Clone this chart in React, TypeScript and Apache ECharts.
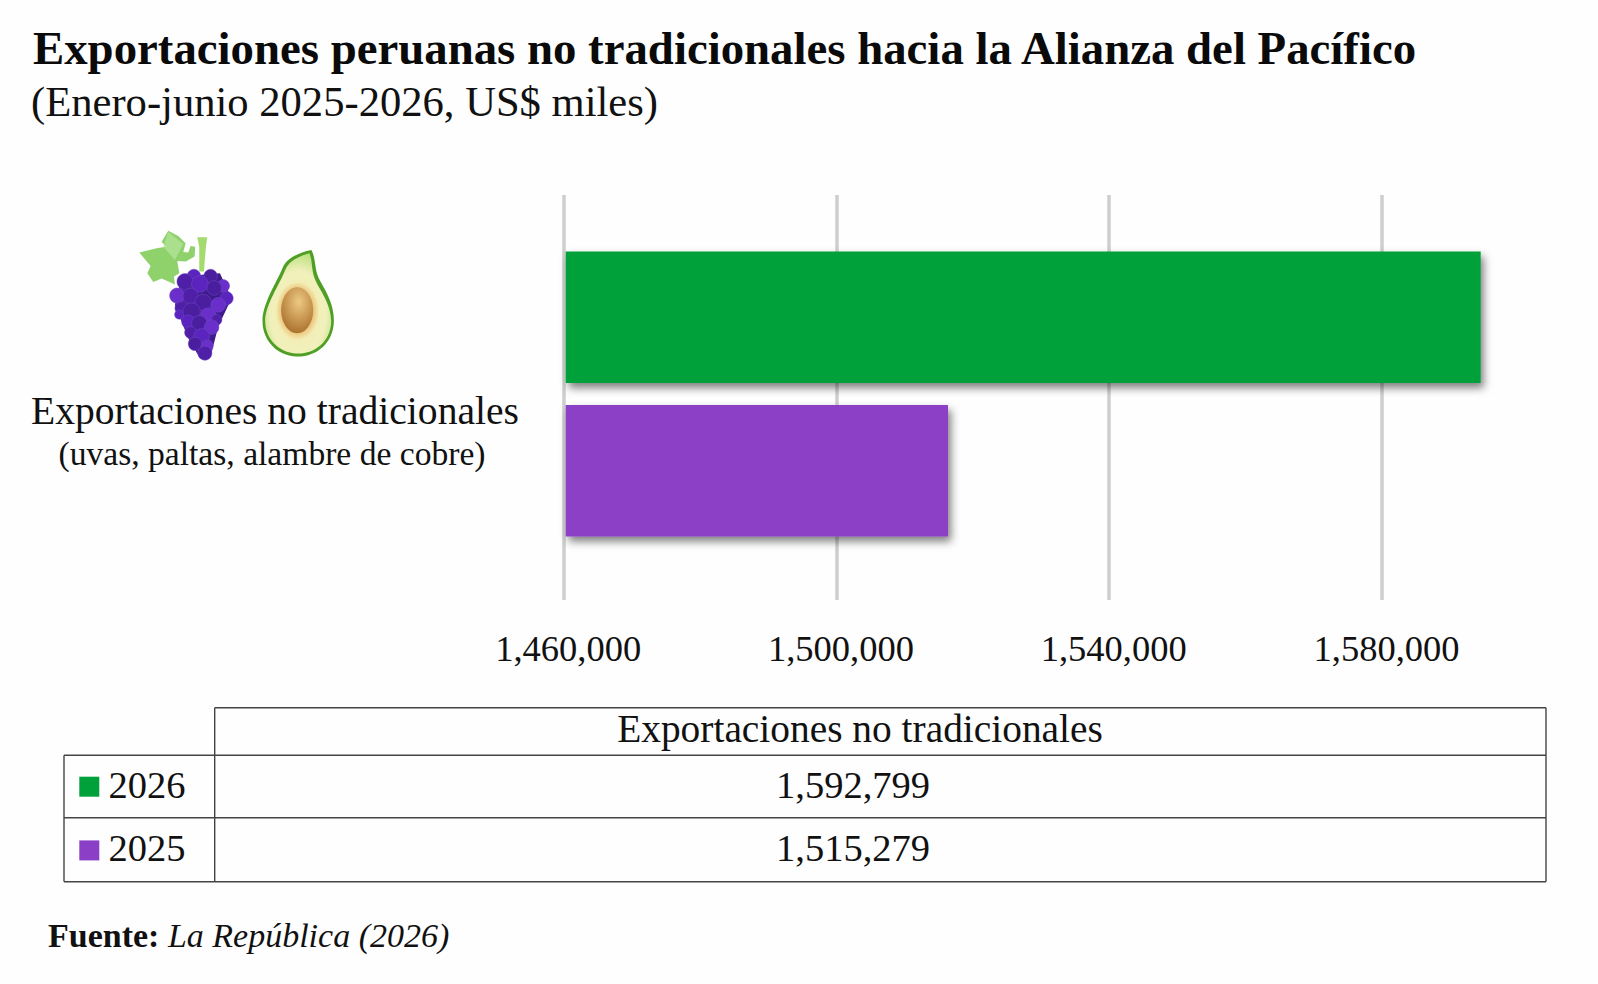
import React, { useEffect, useRef } from "react";
import * as echarts from "echarts";

const titleText = "Exportaciones peruanas no tradicionales hacia la Alianza del Pacífico";
const subtitleText = "(Enero-junio 2025-2026, US$ miles)";
const categoryName = "Exportaciones no tradicionales";
const categoryNote = "(uvas, paltas, alambre de cobre)";
const sourceLabel = "Fuente:";
const sourceName = "La República (2026)";
const categories = [categoryName];
const years = ["2026", "2025"];
const values2026 = [1592799];
const values2025 = [1515279];
const axisMin = 1460000;
const axisMax = 1580000;
const axisStep = 40000;
const barColors = ["#00A13A", "#8B3FC6"];

const SERIF = '"Liberation Serif", "Times New Roman", serif';
const fmt = (v: number) => v.toLocaleString("en-US");

const AVOCADO =
  "M575 120C590 150 582 180 602 215C622 250 645 290 642 340C638 400 590 442 530 440C470 438 428 390 428 335C428 280 470 220 490 170C502 145 535 128 575 120Z";
const AVOCADO_IN =
  "M569 130C580 158 572 185 592 222C612 256 636 295 634 340C630 396 585 433 530 431C476 429 436 385 436 335C436 285 478 228 498 176C510 152 538 138 569 130Z";
const LEAF =
  "M145 62L175 78L197 100L190 126L205 128L212 108L226 110L224 140L198 155L172 153L178 190L162 200L165 224L125 206L100 216L82 190L92 168L58 128L110 115L138 110L125 95Z";
const GRAPE_BACK =
  "M185 200L300 190L335 265L295 350L272 440L240 445L205 385L165 285Z";
const GRAPES: number[][] = [
  [222, 198, 20], [272, 198, 20], [310, 228, 19], [195, 215, 24], [240, 222, 25], [283, 234, 22],
  [172, 257, 23], [212, 258, 23], [320, 265, 20], [250, 278, 25], [295, 285, 22], [185, 295, 20],
  [178, 314, 14], [215, 305, 26], [265, 318, 24], [290, 330, 16], [205, 335, 20], [238, 340, 23],
  [275, 352, 22], [212, 368, 18], [245, 380, 24], [225, 402, 20], [262, 408, 18], [255, 430, 21],
];
const GRAPE_COLORS = ["#5B24BE", "#4A1E9F", "#6A2FCB", "#4F1FA8"];

echarts.graphic.registerShape("avocadoOuter", echarts.graphic.extendPath(AVOCADO, {}));
echarts.graphic.registerShape("avocadoInner", echarts.graphic.extendPath(AVOCADO_IN, {}));
echarts.graphic.registerShape("grapeLeaf", echarts.graphic.extendPath(LEAF, {}));
echarts.graphic.registerShape("grapeBack", echarts.graphic.extendPath(GRAPE_BACK, {}));

const LINE = { stroke: "#444444", lineWidth: 1.4 };
const hLine = (x1: number, x2: number, y: number) => ({ type: "line", shape: { x1, x2, y1: y, y2: y }, style: LINE });
const vLine = (x: number, y1: number, y2: number) => ({ type: "line", shape: { x1: x, x2: x, y1, y2 }, style: LINE });
const label = (text: string, x: number, y: number, size: number, textAlign = "left") => ({
  type: "text",
  style: { text, x, y, fill: "#111111", textAlign, textVerticalAlign: "bottom", font: `${size}px ${SERIF}` },
});

const fruitElements = () => ({
  type: "group",
  x: 120,
  y: 210,
  scaleX: 1 / 3,
  scaleY: 1 / 3,
  silent: true,
  children: [
    { type: "grapeLeaf", style: { fill: "#8FD26C" } },
    {
      type: "polygon",
      shape: { points: [[145, 66], [190, 102], [165, 150], [130, 110]] },
      style: { fill: "#B5E49C", opacity: 0.7 },
    },
    {
      type: "polygon",
      shape: { points: [[232, 82], [262, 82], [258, 110], [252, 185], [238, 185], [238, 110]] },
      style: { fill: "#A3DB6E" },
    },
    { type: "grapeBack", style: { fill: "#3F1A8C" } },
    ...GRAPES.map(([cx, cy, r], i) => ({
      type: "circle",
      shape: { cx, cy, r },
      style: { fill: GRAPE_COLORS[i % GRAPE_COLORS.length], stroke: "#6F4BC0", lineWidth: 1.5 },
    })),
    { type: "avocadoOuter", style: { fill: "#4F9F26" } },
    {
      type: "avocadoInner",
      style: {
        fill: new echarts.graphic.RadialGradient(0.5, 0.6, 0.62, [
          { offset: 0, color: "#F4E9AE" },
          { offset: 0.68, color: "#F1F0BC" },
          { offset: 1, color: "#B7E07A" },
        ]),
      },
    },
    {
      type: "ellipse",
      shape: { cx: 533, cy: 303, rx: 64, ry: 86 },
      style: {
        fill: new echarts.graphic.RadialGradient(0.5, 0.5, 0.5, [
          { offset: 0.7, color: "#E9BE72" },
          { offset: 1, color: "#F3EAB0" },
        ]),
      },
    },
    {
      type: "ellipse",
      shape: { cx: 532, cy: 301, rx: 48, ry: 69 },
      style: {
        fill: new echarts.graphic.RadialGradient(0.55, 0.32, 0.72, [
          { offset: 0, color: "#EEC983" },
          { offset: 1, color: "#A86E2A" },
        ]),
      },
    },
  ],
});

export default function App() {
  const ref = useRef<HTMLDivElement>(null);
  useEffect(() => {
    const chart = echarts.init(ref.current!, undefined, { renderer: "svg" });
    const seriesValues = [values2026, values2025];
    chart.setOption({
      animation: false,
      backgroundColor: "#FEFEFE",
      title: [
        {
          text: titleText,
          left: 28,
          top: 19,
          textStyle: { fontFamily: SERIF, fontWeight: "bold", fontSize: 46.8, color: "#0A0A0A" },
        },
        {
          text: subtitleText,
          left: 26,
          top: 75,
          textStyle: { fontFamily: SERIF, fontWeight: "normal", fontSize: 42.6, color: "#111111" },
        },
      ],
      grid: [
        { left: 563.7, top: 195, width: 818.3, height: 405 },
        { left: 565.7, top: 195, width: 915, height: 398 },
      ],
      xAxis: [
        {
          type: "value",
          gridIndex: 0,
          min: axisMin,
          max: axisMax,
          interval: axisStep,
          axisLine: { show: false },
          axisTick: { show: false },
          splitLine: { show: true, lineStyle: { color: "#CECECE", width: 3.5 } },
          axisLabel: {
            show: true,
            margin: 30,
            padding: [0, 0, 0, 9],
            fontFamily: SERIF,
            fontSize: 36.5,
            color: "#111111",
            formatter: (v: number) => fmt(v),
          },
        },
        {
          type: "value",
          gridIndex: 1,
          show: false,
          min: 1459650,
          max: values2026[0],
          splitLine: { show: false },
        },
      ],
      yAxis: [
        { type: "category", gridIndex: 0, show: false, data: categories },
        { type: "category", gridIndex: 1, show: false, inverse: true, data: categories },
      ],
      series: years.map((year, i) => ({
        type: "bar",
        name: year,
        xAxisIndex: 1,
        yAxisIndex: 1,
        data: seriesValues[i],
        barWidth: 131.5,
        barGap: "16.7%",
        clip: true,
        itemStyle: {
          color: barColors[i],
          shadowColor: "rgba(0,0,0,0.5)",
          shadowBlur: 8,
          shadowOffsetX: 3,
          shadowOffsetY: 5,
        },
      })),
      graphic: [
        fruitElements(),
        label(categoryName, 275, 431, 39.6, "center"),
        label(categoryNote, 272, 470, 33.6, "center"),
        hLine(214.7, 1546, 707.7),
        hLine(64, 1546, 755.3),
        hLine(64, 1546, 817.7),
        hLine(64, 1546, 881.7),
        vLine(64, 755.3, 881.7),
        vLine(214.7, 707.7, 881.7),
        vLine(1546, 707.7, 881.7),
        label(categoryName, 860, 748, 39.4, "center"),
        ...years.flatMap((year, i) => {
          const yOffset = i * 63;
          return [
            {
              type: "rect",
              shape: { x: 79.3, y: 776.7 + i * 63.7, width: 20, height: 20 },
              style: { fill: barColors[i] },
            },
            label(year, 108.5, 804 + yOffset, 38.5),
            label(fmt(seriesValues[i][0]), 853, 804 + yOffset, 38.5, "center"),
          ];
        }),
        {
          type: "text",
          style: {
            x: 48,
            y: 952,
            textVerticalAlign: "bottom",
            fill: "#111111",
            text: `{b|${sourceLabel} }{i|${sourceName}}`,
            rich: {
              b: { fontFamily: SERIF, fontWeight: "bold", fontSize: 34, fill: "#111111" },
              i: { fontFamily: SERIF, fontStyle: "italic", fontSize: 34, fill: "#111111" },
            },
          },
        },
      ],
    });
    return () => chart.dispose();
  }, []);
  return <div ref={ref} style={{ position: "absolute", left: 0, top: 0, width: 1598, height: 984 }} />;
}
